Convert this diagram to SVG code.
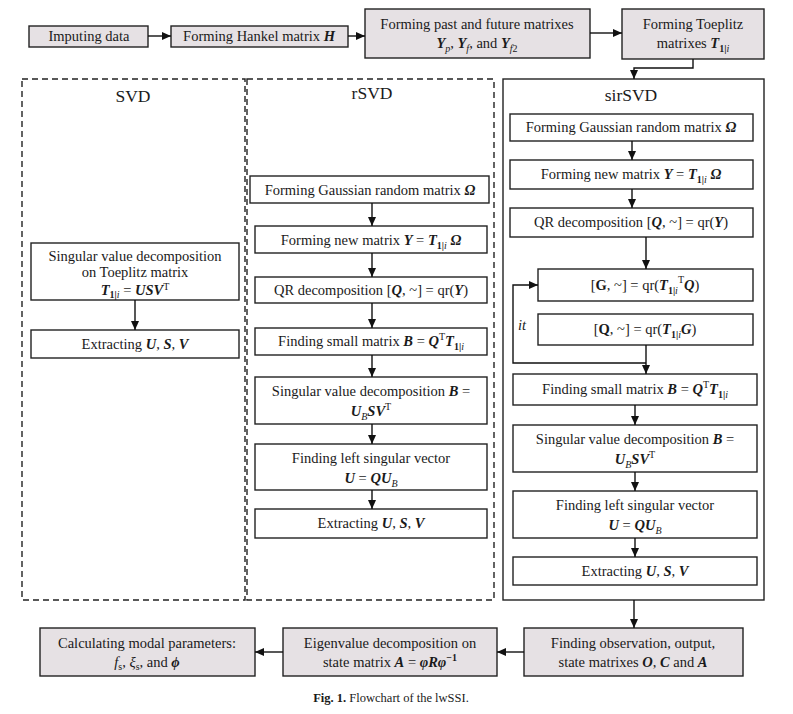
<svg xmlns="http://www.w3.org/2000/svg" width="793" height="714" viewBox="0 0 793 714">
<style>
.t{font-family:"Liberation Serif","Times New Roman",serif;font-size:14.5px;fill:#1a1a1a;text-anchor:middle}
.title{font-family:"Liberation Serif","Times New Roman",serif;font-size:17.5px;fill:#1a1a1a;text-anchor:middle}
.bi{font-weight:bold;font-style:italic}
.it{font-style:italic}
.b{font-weight:bold}
.sub{font-size:10px}
.sup{font-size:10px}
.box{fill:#fff;stroke:#222;stroke-width:1.4}
.gbox{fill:#e6e1e4;stroke:#222;stroke-width:1.4}
.dash{fill:none;stroke:#222;stroke-width:1.4;stroke-dasharray:6 4}
.frame{fill:none;stroke:#222;stroke-width:1.4}
.conn{fill:none;stroke:#111;stroke-width:1.4}
.arr{marker-end:url(#ah)}
.cap{font-family:"Liberation Serif","Times New Roman",serif;font-size:12.5px;fill:#1a1a1a;text-anchor:middle}
</style>
<defs>
<marker id="ah" markerUnits="userSpaceOnUse" markerWidth="9" markerHeight="8" refX="9" refY="4" orient="auto">
<path d="M0,0 L9,4 L0,8 z" fill="#111"/>
</marker>
</defs>
<rect width="793" height="714" fill="#fff"/>

<!-- frames -->
<g id="frame-svd"><rect class="dash" x="22" y="79" width="223" height="521"/><text class="title" x="133" y="102">SVD</text></g>
<g id="frame-rsvd"><rect class="dash" x="247" y="79" width="247" height="521"/><text class="title" x="372" y="99">rSVD</text></g>
<g id="frame-sirsvd"><rect class="frame" x="503" y="79" width="261" height="521"/><text class="title" x="631" y="101">sirSVD</text></g>

<!-- top row -->
<g id="n-impute"><rect class="gbox" x="29" y="26" width="119" height="21"/><text class="t" x="89" y="41">Imputing data</text></g>
<g id="n-hankel"><rect class="gbox" x="171" y="26" width="177" height="21"/><text class="t" x="259" y="41">Forming Hankel matrix <tspan class="bi">H</tspan></text></g>
<g id="n-pastfuture"><rect class="gbox" x="365" y="9" width="225" height="49"/>
<text class="t" x="477" y="29">Forming past and future matrixes</text>
<text class="t" x="477" y="48"><tspan class="bi">Y</tspan><tspan class="sub it" dy="4">p</tspan><tspan dy="-4">, </tspan><tspan class="bi">Y</tspan><tspan class="sub it" dy="4">f</tspan><tspan dy="-4">, and </tspan><tspan class="bi">Y</tspan><tspan class="sub" dy="4"><tspan class="it">f</tspan>2</tspan></text></g>
<g id="n-toeplitz"><rect class="gbox" x="622" y="9" width="142" height="50"/>
<text class="t" x="693" y="29">Forming Toeplitz</text>
<text class="t" x="693" y="48">matrixes <tspan class="bi">T</tspan><tspan class="sub" dy="4"><tspan class="b">1|</tspan><tspan class="it">i</tspan></tspan></text></g>

<!-- SVD column -->
<g id="n-svd1"><rect class="box" x="31" y="243" width="208" height="57"/>
<text class="t" x="135" y="261">Singular value decomposition</text>
<text class="t" x="135" y="277">on Toeplitz matrix</text>
<text class="t" x="135" y="295"><tspan class="bi">T</tspan><tspan class="sub" dy="3"><tspan class="b">1|</tspan><tspan class="it">i</tspan></tspan><tspan dy="-3"> = </tspan><tspan class="bi">USV</tspan><tspan class="sup" dy="-5">T</tspan></text></g>
<g id="n-svd2"><rect class="box" x="31" y="330" width="208" height="28"/>
<text class="t" x="135" y="349">Extracting <tspan class="bi">U</tspan>, <tspan class="bi">S</tspan>, <tspan class="bi">V</tspan></text></g>

<!-- rSVD column -->
<g id="n-r1"><rect class="box" x="250" y="176" width="239" height="27"/>
<text class="t" x="370" y="195">Forming Gaussian random matrix <tspan class="bi">Ω</tspan></text></g>
<g id="n-r2"><rect class="box" x="255" y="226" width="232" height="27"/>
<text class="t" x="371" y="245">Forming new matrix <tspan class="bi">Y</tspan> = <tspan class="bi">T</tspan><tspan class="sub" dy="4"><tspan class="b">1|</tspan><tspan class="it">i</tspan></tspan><tspan class="bi" dy="-4"> Ω</tspan></text></g>
<g id="n-r3"><rect class="box" x="255" y="277" width="232" height="26"/>
<text class="t" x="371" y="295">QR decomposition [<tspan class="bi">Q</tspan>, ~] = qr(<tspan class="bi">Y</tspan>)</text></g>
<g id="n-r4"><rect class="box" x="255" y="328" width="232" height="27"/>
<text class="t" x="371" y="346">Finding small matrix <tspan class="bi">B</tspan> = <tspan class="bi">Q</tspan><tspan class="sup" dy="-6">T</tspan><tspan class="bi" dy="6">T</tspan><tspan class="sub" dy="4"><tspan class="b">1|</tspan><tspan class="it">i</tspan></tspan></text></g>
<g id="n-r5"><rect class="box" x="255" y="377" width="232" height="47"/>
<text class="t" x="371" y="396">Singular value decomposition <tspan class="bi">B</tspan> =</text>
<text class="t" x="371" y="416"><tspan class="bi">U</tspan><tspan class="sub it" dy="4">B</tspan><tspan class="bi" dy="-4">SV</tspan><tspan class="sup" dy="-6">T</tspan></text></g>
<g id="n-r6"><rect class="box" x="255" y="444" width="232" height="46"/>
<text class="t" x="371" y="463">Finding left singular vector</text>
<text class="t" x="371" y="483"><tspan class="bi">U</tspan> = <tspan class="bi">QU</tspan><tspan class="sub it" dy="4">B</tspan></text></g>
<g id="n-r7"><rect class="box" x="255" y="509" width="232" height="29"/>
<text class="t" x="371" y="528">Extracting <tspan class="bi">U</tspan>, <tspan class="bi">S</tspan>, <tspan class="bi">V</tspan></text></g>

<!-- sirSVD column -->
<g id="n-s1"><rect class="box" x="510" y="114" width="243" height="27"/>
<text class="t" x="631" y="132">Forming Gaussian random matrix <tspan class="bi">Ω</tspan></text></g>
<g id="n-s2"><rect class="box" x="510" y="160" width="243" height="29"/>
<text class="t" x="631" y="179">Forming new matrix <tspan class="bi">Y</tspan> = <tspan class="bi">T</tspan><tspan class="sub" dy="4"><tspan class="b">1|</tspan><tspan class="it">i</tspan></tspan><tspan class="bi" dy="-4"> Ω</tspan></text></g>
<g id="n-s3"><rect class="box" x="510" y="208" width="243" height="29"/>
<text class="t" x="631" y="227">QR decomposition [<tspan class="bi">Q</tspan>, ~] = qr(<tspan class="bi">Y</tspan>)</text></g>
<g id="n-s4"><rect class="box" x="538" y="269" width="215" height="32"/>
<text class="t" x="645" y="290">[<tspan class="b">G</tspan>, ~] = qr(<tspan class="bi">T</tspan><tspan class="sub" dy="4"><tspan class="b">1|</tspan><tspan class="it">i</tspan></tspan><tspan class="sup" dy="-11">T</tspan><tspan class="bi" dy="7">Q</tspan>)</text></g>
<g id="n-s5"><rect class="box" x="538" y="314" width="215" height="31"/>
<text class="t" x="645" y="334">[<tspan class="b">Q</tspan>, ~] = qr(<tspan class="bi">T</tspan><tspan class="sub" dy="4"><tspan class="b">1|</tspan><tspan class="it">i</tspan></tspan><tspan class="bi" dy="-4">G</tspan>)</text></g>
<g id="n-s6"><rect class="box" x="513" y="374" width="244" height="31"/>
<text class="t" x="635" y="394">Finding small matrix <tspan class="bi">B</tspan> = <tspan class="bi">Q</tspan><tspan class="sup" dy="-6">T</tspan><tspan class="bi" dy="6">T</tspan><tspan class="sub" dy="4"><tspan class="b">1|</tspan><tspan class="it">i</tspan></tspan></text></g>
<g id="n-s7"><rect class="box" x="513" y="425" width="244" height="47"/>
<text class="t" x="635" y="444">Singular value decomposition <tspan class="bi">B</tspan> =</text>
<text class="t" x="635" y="464"><tspan class="bi">U</tspan><tspan class="sub it" dy="4">B</tspan><tspan class="bi" dy="-4">SV</tspan><tspan class="sup" dy="-6">T</tspan></text></g>
<g id="n-s8"><rect class="box" x="513" y="491" width="244" height="47"/>
<text class="t" x="635" y="510">Finding left singular vector</text>
<text class="t" x="635" y="530"><tspan class="bi">U</tspan> = <tspan class="bi">QU</tspan><tspan class="sub it" dy="4">B</tspan></text></g>
<g id="n-s9"><rect class="box" x="513" y="557" width="244" height="28"/>
<text class="t" x="635" y="576">Extracting <tspan class="bi">U</tspan>, <tspan class="bi">S</tspan>, <tspan class="bi">V</tspan></text></g>
<text class="t it" x="522" y="330">it</text>

<!-- bottom row -->
<g id="n-find"><rect class="gbox" x="524" y="628" width="219" height="48"/>
<text class="t" x="633" y="648">Finding observation, output,</text>
<text class="t" x="633" y="667">state matrixes <tspan class="bi">O</tspan>, <tspan class="bi">C</tspan> and <tspan class="bi">A</tspan></text></g>
<g id="n-eigen"><rect class="gbox" x="283" y="628" width="214" height="48"/>
<text class="t" x="390" y="648">Eigenvalue decomposition on</text>
<text class="t" x="390" y="667">state matrix <tspan class="bi">A</tspan> = <tspan class="bi">φRφ</tspan><tspan class="sup b" dy="-6">−1</tspan></text></g>
<g id="n-calc"><rect class="gbox" x="40" y="628" width="215" height="48"/>
<text class="t" x="147" y="648">Calculating modal parameters:</text>
<text class="t" x="147" y="667"><tspan class="it">f</tspan><tspan class="sub" dy="3">s</tspan><tspan dy="-3">, </tspan><tspan class="it">ξ</tspan><tspan class="sub" dy="3">s</tspan><tspan dy="-3">, and </tspan><tspan class="bi">ϕ</tspan></text></g>

<!-- connectors -->
<g id="connectors">
<path class="conn arr" d="M148,36 H171"/>
<path class="conn arr" d="M348,36 H365"/>
<path class="conn arr" d="M590,33 H622"/>
<path class="conn arr" d="M693,59 V68 H634 V79"/>
<path class="conn arr" d="M135,300 V330"/>
<path class="conn arr" d="M372,203 V226"/>
<path class="conn arr" d="M372,253 V277"/>
<path class="conn arr" d="M372,303 V328"/>
<path class="conn arr" d="M372,355 V377"/>
<path class="conn arr" d="M372,424 V444"/>
<path class="conn arr" d="M372,490 V509"/>
<path class="conn arr" d="M632,141 V160"/>
<path class="conn arr" d="M632,189 V208"/>
<path class="conn arr" d="M646,237 V269"/>
<path class="conn arr" d="M646,345 V374"/>
<path class="conn arr" d="M646,363 H513 V285 H538"/>
<path class="conn arr" d="M635,405 V425"/>
<path class="conn arr" d="M635,472 V491"/>
<path class="conn arr" d="M635,538 V557"/>
<path class="conn arr" d="M634,600 V628"/>
<path class="conn arr" d="M524,652 H497"/>
<path class="conn arr" d="M283,652 H255"/>
</g>

<text class="cap" x="391" y="702"><tspan class="b">Fig. 1.</tspan> Flowchart of the lwSSI.</text>
</svg>
